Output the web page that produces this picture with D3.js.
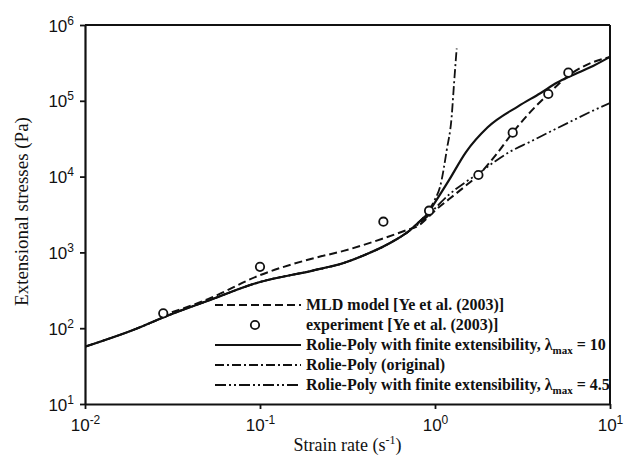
<!DOCTYPE html>
<html>
<head>
<meta charset="utf-8">
<script src="https://cdn.jsdelivr.net/npm/d3@7/dist/d3.min.js"></script>
<style>
  body { margin: 0; background: #fff; }
  svg { display: block; }
</style>
</head>
<body>
<svg id="chart" width="625" height="459"></svg>
<script>
// 数据
var xTicks = [1e-2, 1e-1, 1e0, 1e1];
var xTickExp = ["-2", "-1", "0", "1"];
var yTicks = [1e1, 1e2, 1e3, 1e4, 1e5, 1e6];
var yTickExp = ["1", "2", "3", "4", "5", "6"];

// Rolie-Poly with finite extensibility, lambda_max = 10 (solid)
var rp10Rate   = [0.01, 0.02, 0.03, 0.05, 0.1, 0.2, 0.3, 0.4, 0.5, 0.6, 0.7, 0.8, 0.9, 1.0, 1.2, 1.5, 2, 3, 4, 5, 6, 8, 10];
var rp10Stress = [57, 100, 148, 229, 407, 575, 724, 933, 1175, 1480, 1860, 2455, 3160, 4570, 8900, 20900, 44700, 85100, 126000, 174000, 214000, 288000, 380000];

// MLD model (dashed)
var mldRate   = [0.027, 0.05, 0.1, 0.2, 0.3, 0.5, 0.7, 0.8, 0.9, 1.0, 1.2, 1.5, 1.77, 2.2, 2.78, 3.5, 4.44, 5.78, 7, 10];
var mldStress = [145, 240, 501, 832, 1047, 1514, 1995, 2239, 2818, 3548, 5012, 7586, 10470, 18620, 38020, 70800, 123000, 214000, 282000, 380000];

// Rolie-Poly original (dash-dot)
var rpOrigRate   = [0.01, 0.02, 0.03, 0.05, 0.1, 0.2, 0.3, 0.4, 0.5, 0.6, 0.7, 0.8, 0.9, 1.0, 1.07, 1.167, 1.245, 1.285, 1.33];
var rpOrigStress = [57, 100, 148, 229, 407, 575, 724, 933, 1175, 1480, 1860, 2455, 3310, 5010, 7410, 22400, 61700, 170000, 490000];

// Rolie-Poly with finite extensibility, lambda_max = 4.5 (dash-dot-dot)
var rp45Rate   = [0.01, 0.02, 0.03, 0.05, 0.1, 0.2, 0.3, 0.4, 0.5, 0.6, 0.7, 0.8, 0.9, 1.0, 1.2, 1.5, 1.77, 2.2, 2.69, 3.5, 4.35, 6, 8, 10];
var rp45Stress = [57, 100, 148, 229, 407, 575, 724, 933, 1175, 1480, 1860, 2344, 2951, 3802, 5754, 8511, 10960, 15850, 21380, 28840, 37150, 53700, 74130, 93300];

// experiment [Ye et al. (2003)]
var expRate   = [0.028, 0.1, 0.507, 0.925, 1.77, 2.78, 4.44, 5.78];
var expStress = [157, 645, 2540, 3550, 10500, 38000, 123000, 235000];

var margin = { top: 25, right: 15, bottom: 55, left: 85 };
var width = 625 - margin.left - margin.right;
var height = 459 - margin.top - margin.bottom;

var svg = d3.select("#chart");
var g = svg.append("g").attr("transform", "translate(" + margin.left + "," + margin.top + ")");

var x = d3.scaleLog().domain([1e-2, 1e1]).range([0, width]);
var y = d3.scaleLog().domain([1e1, 1e6]).range([height, 0]);

function zip(a, b) {
  return a.map(function (v, i) { return [v, b[i]]; });
}

var line = d3.line()
  .x(function (d) { return x(d[0]); })
  .y(function (d) { return y(d[1]); })
  .curve(d3.curveMonotoneX);

var series = [
  { name: "rp45", data: zip(rp45Rate, rp45Stress), dash: "11,3,2,3,2,3", w: 1.8 },
  { name: "rpOrig", data: zip(rpOrigRate, rpOrigStress), dash: "9,3,2,3", w: 1.8 },
  { name: "mld", data: zip(mldRate, mldStress), dash: "8,4", w: 2 },
  { name: "rp10", data: zip(rp10Rate, rp10Stress), dash: null, w: 2.2 }
];

g.append("clipPath").attr("id", "plotclip")
  .append("rect").attr("width", width).attr("height", height);

g.append("g")
  .attr("clip-path", "url(#plotclip)")
  .selectAll("path")
  .data(series)
  .enter()
  .append("path")
  .attr("d", function (d) { return line(d.data); })
  .style("fill", "none")
  .style("stroke", "#111")
  .style("stroke-width", function (d) { return d.w; })
  .style("stroke-dasharray", function (d) { return d.dash; });

// 实验点
g.append("g")
  .selectAll("circle")
  .data(zip(expRate, expStress))
  .enter()
  .append("circle")
  .attr("cx", function (d) { return x(d[0]); })
  .attr("cy", function (d) { return y(d[1]); })
  .attr("r", 4.2)
  .style("fill", "#fff")
  .style("stroke", "#111")
  .style("stroke-width", 1.8);

// axes
var xAxis = g.append("g")
  .attr("transform", "translate(0," + height + ")")
  .call(d3.axisBottom(x).tickValues(xTicks).tickSize(5).tickSizeOuter(0).tickFormat(""));
var yAxis = g.append("g")
  .call(d3.axisLeft(y).tickValues(yTicks).tickSize(5).tickSizeOuter(0).tickFormat(""));

[xAxis, yAxis].forEach(function (ax) {
  ax.select(".domain").style("stroke", "#111").style("stroke-width", 2.2);
  ax.selectAll(".tick line").style("stroke", "#111").style("stroke-width", 1.8);
});

// top and right frame
g.append("line").attr("x1", 0).attr("x2", width).attr("y1", 0).attr("y2", 0)
  .style("stroke", "#111").style("stroke-width", 2);
g.append("line").attr("x1", width).attr("x2", width).attr("y1", 0).attr("y2", height)
  .style("stroke", "#111").style("stroke-width", 2);

var tickFont = "'Liberation Sans', Arial, sans-serif";

xAxis.selectAll(".tick")
  .each(function (d, i) {
    var t = d3.select(this).append("text")
      .attr("y", 27)
      .attr("text-anchor", "middle")
      .style("font-family", tickFont)
      .style("font-size", "17px")
      .style("fill", "#111");
    t.append("tspan").text("10");
    t.append("tspan").attr("dy", -7).style("font-size", "12px").text(xTickExp[i]);
  });

yAxis.selectAll(".tick")
  .each(function (d, i) {
    var t = d3.select(this).append("text")
      .attr("x", -11)
      .attr("y", 6)
      .attr("text-anchor", "end")
      .style("font-family", tickFont)
      .style("font-size", "17px")
      .style("fill", "#111");
    t.append("tspan").text("10");
    t.append("tspan").attr("dy", -7).style("font-size", "12px").text(yTickExp[i]);
  });

var serif = "'Liberation Serif', 'Times New Roman', serif";

// axis titles
var xt = svg.append("text")
  .attr("x", margin.left + width / 2)
  .attr("y", 451)
  .attr("text-anchor", "middle")
  .style("font-family", serif)
  .style("font-size", "18px")
  .style("fill", "#111");
xt.append("tspan").text("Strain rate (s");
xt.append("tspan").attr("dy", -7).style("font-size", "12px").text("-1");
xt.append("tspan").attr("dy", 7).text(")");

svg.append("text")
  .attr("transform", "translate(28," + (margin.top + height / 2 - 3) + ") rotate(-90)")
  .attr("text-anchor", "middle")
  .style("font-family", serif)
  .style("font-size", "19px")
  .style("fill", "#111")
  .text("Extensional stresses (Pa)");

// legend
var legendItems = [
  { type: "line", dash: "8,4", w: 2, label: [["MLD model [Ye et al. (2003)]"]] },
  { type: "circle", label: [["experiment [Ye et al. (2003)]"]] },
  { type: "line", dash: null, w: 2.2, label: [["Rolie-Poly with finite extensibility, \u03bb"], ["max", "sub"], [" = 10"]] },
  { type: "line", dash: "9,3,2,3", w: 1.8, label: [["Rolie-Poly (original)"]] },
  { type: "line", dash: "11,3,2,3,2,3", w: 1.8, label: [["Rolie-Poly with finite extensibility, \u03bb"], ["max", "sub"], [" = 4.5"]] }
];

var legend = svg.append("g").attr("transform", "translate(215,305)");
var rows = legend.selectAll("g")
  .data(legendItems)
  .enter()
  .append("g")
  .attr("transform", function (d, i) { return "translate(0," + i * 20 + ")"; });

rows.each(function (d) {
  var r = d3.select(this);
  if (d.type === "line") {
    r.append("line")
      .attr("x1", 0).attr("x2", 86).attr("y1", 0).attr("y2", 0)
      .style("stroke", "#111")
      .style("stroke-width", d.w)
      .style("stroke-dasharray", d.dash);
  } else {
    r.append("circle").attr("cx", 40).attr("cy", 0).attr("r", 4.2)
      .style("fill", "#fff").style("stroke", "#111").style("stroke-width", 1.8);
  }
  var t = r.append("text")
    .attr("x", 91)
    .attr("y", 5)
    .style("font-family", serif)
    .style("font-size", "16px")
    .style("font-weight", "bold")
    .style("fill", "#111");
  d.label.forEach(function (p, k) {
    var ts = t.append("tspan").text(p[0]);
    if (p[1] === "sub") {
      ts.attr("dy", 4).style("font-size", "11px");
    } else if (k > 0) {
      ts.attr("dy", -4);
    }
  });
});
</script>
</body>
</html>
